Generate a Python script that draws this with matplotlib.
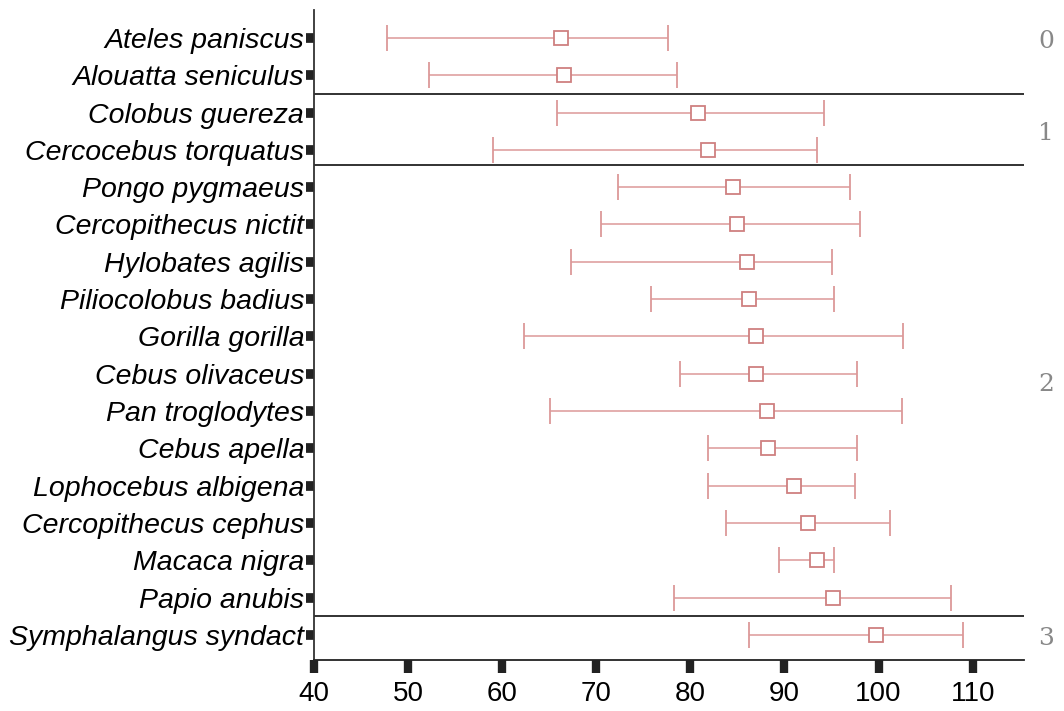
import matplotlib.pyplot as plt

# species, ordered top to bottom
species = ["Ateles paniscus", "Alouatta seniculus", "Colobus guereza",
           "Cercocebus torquatus", "Pongo pygmaeus", "Cercopithecus nictit",
           "Hylobates agilis", "Piliocolobus badius", "Gorilla gorilla",
           "Cebus olivaceus", "Pan troglodytes", "Cebus apella",
           "Lophocebus albigena", "Cercopithecus cephus", "Macaca nigra",
           "Papio anubis", "Symphalangus syndact"]
mean = [66.3, 66.6, 80.8, 81.9, 84.5, 85.0, 86.0, 86.2, 87.0, 87.0,
        88.1, 88.3, 91.0, 92.5, 93.5, 95.2, 99.7]
low = [47.75, 52.2, 65.8, 59.0, 72.3, 70.5, 67.3, 75.8, 62.3, 78.9,
       65.1, 81.9, 81.9, 83.8, 89.4, 78.3, 86.2]
high = [77.6, 78.6, 94.2, 93.5, 97.0, 98.0, 95.1, 95.3, 102.6, 97.7,
        102.5, 97.7, 97.5, 101.2, 95.3, 107.7, 109.0]

# group labels and separators between groups
groups = ["0", "1", "2", "3"]
group_pos = [0.1, 2.55, 9.3, 16.1]
separators = [1.5, 3.4, 15.5]

fig = plt.figure(figsize=(10.64, 7.11), dpi=100)
ax = fig.add_axes([0.295, 0.072, 0.667, 0.914])

ypos = list(range(len(species)))
err = [[m - l for m, l in zip(mean, low)], [h - m for h, m in zip(high, mean)]]
ax.errorbar(mean, ypos, xerr=err, fmt='s', color='#dc9898', ecolor='#dc9898',
            mfc='white', mec='#cf8080', ms=10.5, mew=1.3, elinewidth=1.1,
            capsize=9.5, capthick=1.1, zorder=3)

for s in separators:
    ax.axhline(s, color='#222222', lw=1.3)

ax.set_xlim(40, 115.4)
ax.set_ylim(16.67, -0.75)
ax.set_xticks(range(40, 111, 10))
ax.set_yticks(ypos)
ax.set_yticklabels(species, fontsize=20.5, style='italic', family='Liberation Sans')
for lbl in ax.get_xticklabels():
    lbl.set_family('Liberation Sans')
ax.tick_params(axis='x', labelsize=20, length=9, width=6, direction='out',
               color='#222222', pad=6)
ax.tick_params(axis='y', length=6, width=7, direction='out', color='#222222', pad=1)

for sp in ['top', 'right']:
    ax.spines[sp].set_visible(False)
ax.spines['left'].set_color('#333333')
ax.spines['bottom'].set_color('#222222')
ax.spines['left'].set_linewidth(1.3)
ax.spines['bottom'].set_linewidth(1.3)

for g, p in zip(groups, group_pos):
    ax.text(117.8, p, g, fontsize=18, family='DejaVu Serif', color='#888888',
            ha='center', va='center', clip_on=False)

fig.savefig('out.png', dpi=100)
